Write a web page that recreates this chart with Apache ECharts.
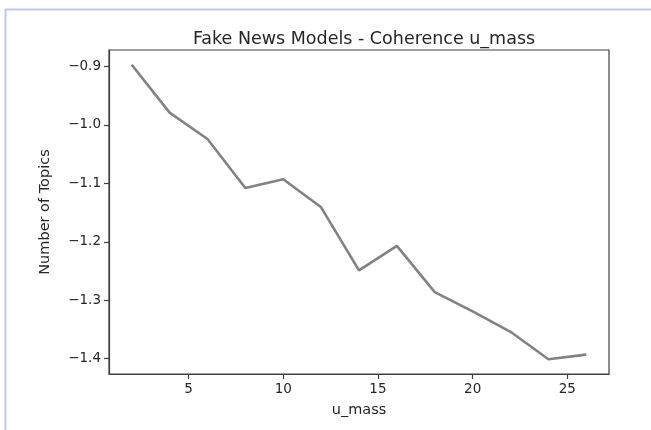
<!DOCTYPE html>
<html>
<head>
<meta charset="utf-8">
<script src="https://cdn.jsdelivr.net/npm/echarts@6/dist/echarts.min.js"></script>
<style>
  html, body { margin: 0; padding: 0; background: #ffffff; }
  #chart { width: 651px; height: 430px; }
</style>
</head>
<body>
<div id="chart"></div>
<script>
// Number of topics tried for each model run
const numTopics = [2, 4, 6, 8, 10, 12, 14, 16, 18, 20, 22, 24, 26];
// u_mass coherence score for each run
const coherence = [-0.897, -0.979, -1.024, -1.108, -1.093, -1.141, -1.249, -1.207, -1.286, -1.319, -1.354, -1.401, -1.393];
// Tick labels shown on each axis
const xTicks = [5, 10, 15, 20, 25];
const yTicks = [-1.4, -1.3, -1.2, -1.1, -1.0, -0.9];

// Axis limits padded by 5% of the data span on each side
function padded(values) {
  const lo = Math.min(...values), hi = Math.max(...values);
  const pad = (hi - lo) * 0.05;
  return [lo - pad, hi + pad];
}
const [xMin, xMax] = padded(numTopics);
const [yMin, yMax] = padded(coherence);

const FONT = 'DejaVu Sans';
const INK = '#262626';
const SPINE = '#404040';

const chart = echarts.init(document.getElementById('chart'), null, { renderer: 'canvas' });

chart.setOption({
  animation: false,
  backgroundColor: '#ffffff',
  title: {
    text: 'Fake News Models - Coherence u_mass',
    left: 359,
    top: 25,
    textAlign: 'center',
    textStyle: { fontFamily: FONT, fontSize: 17.5, fontWeight: 'normal', color: INK }
  },
  grid: {
    left: 109, top: 50, width: 500, height: 324,
    show: true, borderColor: SPINE, borderWidth: 1.2, backgroundColor: '#ffffff'
  },
  xAxis: {
    type: 'value',
    min: xMin, max: xMax,
    name: 'u_mass',
    nameLocation: 'middle',
    nameGap: 29,
    nameTextStyle: { fontFamily: FONT, fontSize: 14.5, color: INK },
    axisLine: { show: true, onZero: false, lineStyle: { color: SPINE, width: 1.2 } },
    axisTick: { show: true, length: 5, lineStyle: { color: SPINE, width: 1.2 }, customValues: xTicks },
    axisLabel: {
      fontFamily: FONT, fontSize: 13.5, color: INK, margin: 8,
      customValues: xTicks,
      formatter: v => String(v)
    },
    splitLine: { show: false }
  },
  yAxis: {
    type: 'value',
    min: yMin, max: yMax,
    name: 'Number of Topics',
    nameLocation: 'middle',
    nameRotate: 90,
    nameGap: 56,
    nameTextStyle: { fontFamily: FONT, fontSize: 14.5, color: INK },
    axisLine: { show: true, onZero: false, lineStyle: { color: SPINE, width: 1.2 } },
    axisTick: { show: true, length: 5, lineStyle: { color: SPINE, width: 1.2 }, customValues: yTicks },
    axisLabel: {
      fontFamily: FONT, fontSize: 13.5, color: INK, margin: 8,
      customValues: yTicks,
      formatter: v => (v < 0 ? '\u2212' : '') + Math.abs(v).toFixed(1)
    },
    splitLine: { show: false }
  },
  graphic: [
    {
      type: 'line', silent: true, z: 10,
      shape: { x1: 5.5, y1: 9, x2: 5.5, y2: 430 },
      style: { stroke: '#b9cbea', lineWidth: 2 }
    },
    {
      type: 'line', silent: true, z: 10,
      shape: { x1: 5, y1: 9.5, x2: 651, y2: 9.5 },
      style: { stroke: '#b9cbea', lineWidth: 2 }
    }
  ],
  series: [{
    type: 'line',
    data: numTopics.map((n, i) => [n, coherence[i]]),
    showSymbol: false,
    lineStyle: { color: '#828282', width: 2.6 },
    clip: false
  }]
});
</script>
</body>
</html>
